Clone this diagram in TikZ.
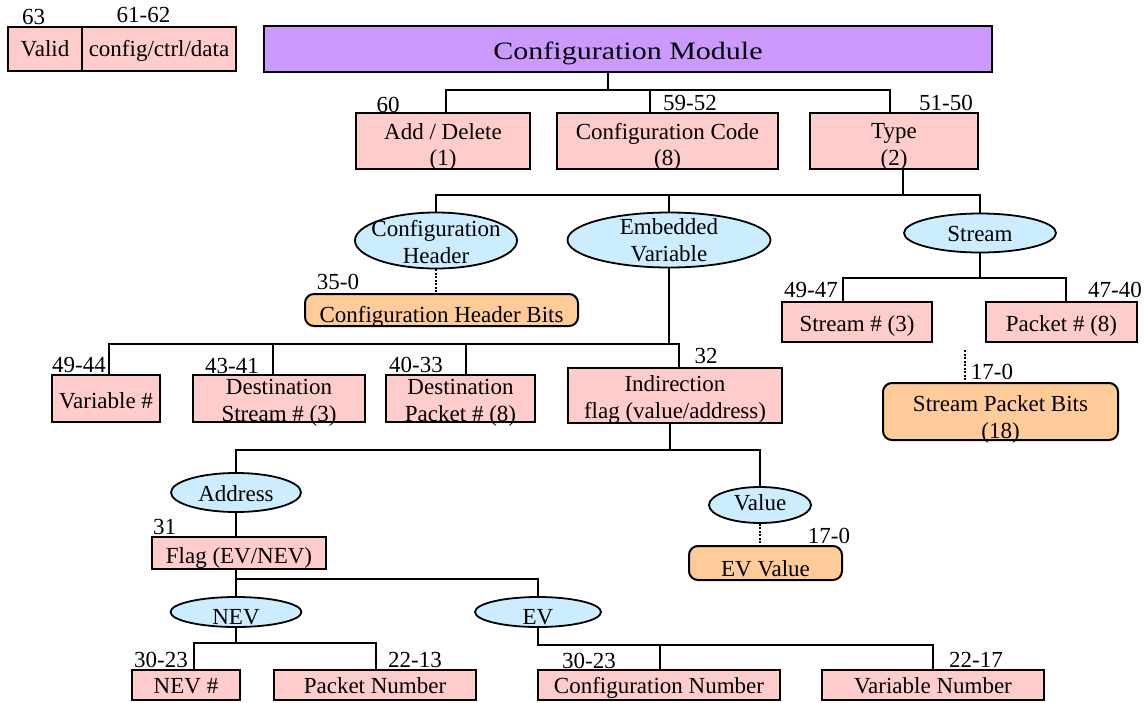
\documentclass[tikz,border=0pt]{standalone}
\usepackage{fontspec}
\setmainfont{Liberation Serif}
\newfontfamily\widefont[FakeStretch=1.2]{Liberation Serif}
\usetikzlibrary{shapes.geometric}
\definecolor{pinkc}{HTML}{FFCCCC}
\definecolor{purplec}{HTML}{CC99FF}
\definecolor{bluec}{HTML}{CCECFF}
\definecolor{orangec}{HTML}{FFCC99}
\tikzset{
  lbl/.style={font=\fontsize{23}{26.5}\selectfont, inner sep=0pt},
  tone/.style={font=\fontsize{23}{26.5}\selectfont, inner sep=0pt, text height=16pt, text depth=5pt},
  ttwo/.style={font=\fontsize{23}{26.5}\selectfont, align=center, inner sep=0pt},
  pbox/.style={draw, line width=2pt, fill=pinkc, inner sep=0pt},
  mbox/.style={draw, line width=2pt, fill=purplec, inner sep=0pt},
  obox/.style={draw, line width=2pt, fill=orangec, rounded corners=9pt, inner sep=0pt},
  oval/.style={draw, ellipse, line width=1.8pt, fill=bluec, inner sep=0pt},
  wire/.style={line width=2pt},
  dotline/.style={line width=1.2pt, dash pattern=on 2pt off 1.5pt},
}
\begin{document}
\begin{tikzpicture}[x=1pt, y=-1pt]
\useasboundingbox (0,0) rectangle (1148,702);

% ---- header word fields ----
\node[pbox, minimum width=74pt, minimum height=44pt, label={[tone, yshift=-2pt]center:Valid}] (valid) at (45,49) {};
\node[pbox, minimum width=154pt, minimum height=44pt, label={[tone, yshift=-2pt]center:config/ctrl/data}] (ccd) at (159,49) {};
\node[lbl] (l63) at (33.5,16.5) {63};
\node[lbl] (l6162) at (143.5,14.5) {61-62};

% ---- top level ----
\node[mbox, minimum width=728pt, minimum height=46pt,
  label={[inner sep=0pt, font=\widefont\fontsize{25}{28}\selectfont, text height=17pt, text depth=5.4pt, yshift=-4.5pt]center:Configuration Module}] (mod) at (628,49) {};

\node[pbox, minimum width=174pt, minimum height=56pt, label={[ttwo, yshift=-6pt]center:{Add / Delete\\(1)}}] (add) at (443,141) {};
\node[pbox, minimum width=221pt, minimum height=56pt, label={[ttwo, yshift=-6pt]center:{Configuration Code\\(8)}}] (cfgc) at (667.5,141) {};
\node[pbox, minimum width=168pt, minimum height=56pt, label={[ttwo, yshift=-6pt]center:{Type\\(2)}}] (type) at (894,141) {};
\node[lbl] (l60) at (388,105) {60};
\node[lbl] (l5952) at (690,103) {59-52};
\node[lbl] (l5150) at (946,103) {51-50};

% ---- type branches ----
\node[oval, minimum width=162pt, minimum height=56pt, label={[ttwo, yshift=-1.5pt]center:{Configuration\\Header}}] (ch) at (436,240.5) {};
\node[oval, minimum width=203pt, minimum height=55pt, label={[ttwo]center:{Embedded\\Variable}}] (ev) at (669,240) {};
\node[oval, minimum width=152pt, minimum height=39pt, label={[tone, yshift=-3pt]center:Stream}] (st) at (980,233) {};

\node[obox, minimum width=273pt, minimum height=32pt, label={[tone, yshift=-7pt]center:Configuration Header Bits}] (chb) at (441.5,310) {};
\node[lbl] (l350) at (338,282) {35-0};

% ---- stream fields ----
\node[pbox, minimum width=150pt, minimum height=40pt, label={[tone, yshift=-4pt]center:Stream \# (3)}] (sn) at (857,322) {};
\node[pbox, minimum width=151pt, minimum height=40pt, label={[tone, yshift=-4pt]center:Packet \# (8)}] (pn) at (1061.5,322) {};
\node[lbl] (l4947) at (811,290) {49-47};
\node[lbl] (l4740) at (1115,290) {47-40};
\node[obox, minimum width=235pt, minimum height=57pt, label={[ttwo, yshift=-8pt]center:{Stream Packet Bits\\(18)}}] (spb) at (1000.5,411.5) {};
\node[lbl] (l170a) at (992,372) {17-0};
\coordinate (spbtop) at (965,350);

% ---- embedded variable fields ----
\node[pbox, minimum width=108pt, minimum height=47pt, label={[tone, yshift=-4pt]center:Variable \#}] (vnum) at (106,398.5) {};
\node[pbox, minimum width=172pt, minimum height=47pt, label={[ttwo, yshift=-4.5pt]center:{Destination\\Stream \# (3)}}] (dstr) at (279,398.5) {};
\node[pbox, minimum width=149pt, minimum height=47pt, label={[ttwo, yshift=-4.5pt]center:{Destination\\Packet \# (8)}}] (dpkt) at (460.5,398.5) {};
\node[pbox, minimum width=214pt, minimum height=55pt, label={[ttwo, yshift=-4pt]center:{Indirection\\flag (value/address)}}] (ind) at (675,395.5) {};
\node[lbl] (l4944) at (79,365) {49-44};
\node[lbl] (l4341) at (232,366) {43-41};
\node[lbl] (l4033) at (416,364.5) {40-33};
\node[lbl] (l32) at (706,356) {32};

% ---- indirection ----
\node[oval, minimum width=130pt, minimum height=39pt, label={[tone, yshift=-3pt]center:Address}] (addr) at (236,492.5) {};
\node[oval, minimum width=102pt, minimum height=36pt, label={[tone]center:Value}] (val) at (760,505) {};
\node[obox, minimum width=153pt, minimum height=34pt, label={[tone, yshift=-8pt]center:EV Value}] (evv) at (765.5,563) {};
\node[lbl] (l170b) at (829,536) {17-0};
\node[pbox, minimum width=174pt, minimum height=32pt, label={[tone, yshift=-5pt]center:Flag (EV/NEV)}] (flag) at (239,553) {};
\node[lbl] (l31) at (164.5,527) {31};

\node[oval, minimum width=131pt, minimum height=30pt, label={[tone, yshift=-7pt]center:NEV}] (nev) at (236,612) {};
\node[oval, minimum width=126pt, minimum height=30pt, label={[tone, yshift=-7pt]center:EV}] (evl) at (538,612) {};

\node[pbox, minimum width=108pt, minimum height=30pt, label={[tone, yshift=-3pt]center:NEV \#}] (nevnum) at (186,685) {};
\node[pbox, minimum width=202pt, minimum height=30pt, label={[tone, yshift=-3pt]center:Packet Number}] (pktnum) at (375,685) {};
\node[pbox, minimum width=242pt, minimum height=30pt, label={[tone, yshift=-3pt]center:Configuration Number}] (cfgnum) at (659,685) {};
\node[pbox, minimum width=222pt, minimum height=30pt, label={[tone, yshift=-3pt]center:Variable Number}] (varnum) at (933,685) {};
\node[lbl] (l3023a) at (161,660) {30-23};
\node[lbl] (l2213) at (415,660) {22-13};
\node[lbl] (l3023b) at (589,661) {30-23};
\node[lbl] (l2217) at (976,660) {22-17};

% ---- connectors ----
% module to its three fields
\coordinate (m0) at (608,90);
\coordinate (ma) at (446,90);
\coordinate (mb) at (650,90);
\coordinate (mc) at (890,90);
\draw[wire] (m0 |- mod.south) -- (m0);
\draw[wire] (ma |- add.north) -- (ma) -- (mc) -- (mc |- type.north);
\draw[wire] (mb) -- (mb |- cfgc.north);

% type to its three kinds
\coordinate (t0) at (903,195);
\draw[wire] (t0 |- type.south) -- (t0);
\draw[wire] (ch.north) -- (ch.north |- t0) -- (st.north |- t0) -- (st.north);
\draw[wire] (ev.north |- t0) -- (ev.north);

% header bits
\draw[dotline] (ch.south) -- (ch.south |- chb.north);

% stream fields
\coordinate (s0) at (980,278);
\coordinate (sa) at (843,278);
\coordinate (sb) at (1066,278);
\draw[wire] (st.south) -- (s0);
\draw[wire] (sa |- sn.north) -- (sa) -- (sb) -- (sb |- pn.north);
\draw[dotline] (spbtop) -- (spbtop |- spb.north);

% embedded variable fields
\coordinate (e0) at (669,344);
\coordinate (ea) at (109,344);
\coordinate (eb) at (273,344);
\coordinate (ec) at (466,344);
\coordinate (ed) at (679,344);
\draw[wire] (ev.south) -- (e0);
\draw[wire] (ea |- vnum.north) -- (ea) -- (ed) -- (ed |- ind.north);
\draw[wire] (eb) -- (eb |- dstr.north);
\draw[wire] (ec) -- (ec |- dpkt.north);

% indirection: address or value
\coordinate (i0) at (670,450);
\draw[wire] (i0 |- ind.south) -- (i0);
\draw[wire] (addr.north) -- (addr.north |- i0) -- (val.north |- i0) -- (val.north);
\draw[dotline] (val.south) -- (val.south |- evv.north);

% address flag
\draw[wire] (addr.south) -- (addr.south |- flag.north);
\coordinate (f0) at (236,579);
\draw[wire] (f0 |- flag.south) -- (f0) -- (evl.north |- f0) -- (evl.north);
\draw[wire] (f0) -- (nev.north);

% NEV fields
\coordinate (n0) at (236,643);
\coordinate (na) at (194,643);
\coordinate (nb) at (376,643);
\draw[wire] (nev.south) -- (n0);
\draw[wire] (na |- nevnum.north) -- (na) -- (nb) -- (nb |- pktnum.north);

% EV fields
\coordinate (v0) at (538,645);
\coordinate (va) at (660,645);
\coordinate (vb) at (933,645);
\draw[wire] (evl.south) -- (v0) -- (vb) -- (vb |- varnum.north);
\draw[wire] (va) -- (va |- cfgnum.north);
\end{tikzpicture}
\end{document}
